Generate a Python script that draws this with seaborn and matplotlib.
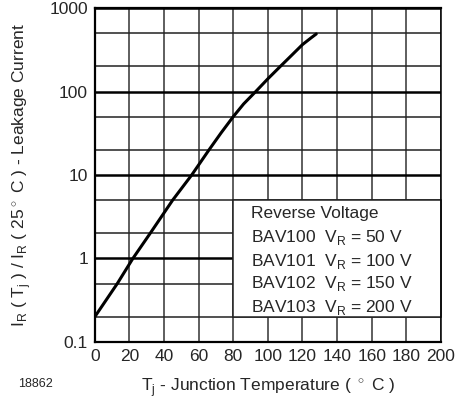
import matplotlib
matplotlib.use("Agg")
import matplotlib.pyplot as plt
import matplotlib.ticker as mticker
import pandas as pd
import seaborn as sns
from matplotlib.patches import Rectangle

# curve
temperature = [0, 13, 22, 32, 45, 56, 66, 73, 80, 86, 93, 100, 107, 114, 120, 125, 128]
leakage_ratio = [0.2, 0.5, 1, 2, 5, 10, 20, 32, 50, 71, 100, 142, 198, 275, 365, 440, 490]

x_ticks = [0, 20, 40, 60, 80, 100, 120, 140, 160, 180, 200]
y_ticks = [0.1, 1, 10, 100, 1000]
y_tick_labels = ["0.1", "1", "10", "100", "1000"]

legend_lines = [
    "Reverse Voltage",
    r"BAV100  V$_\mathregular{R}$ = 50 V",
    r"BAV101  V$_\mathregular{R}$ = 100 V",
    r"BAV102  V$_\mathregular{R}$ = 150 V",
    r"BAV103  V$_\mathregular{R}$ = 200 V",
]
legend_y = [0.386, 0.313, 0.240, 0.174, 0.104]

sns.set_style("white")
plt.rcParams["font.family"] = ["Liberation Sans", "DejaVu Sans"]
plt.rcParams["mathtext.fontset"] = "custom"
plt.rcParams["mathtext.rm"] = "Liberation Sans"

FS = 12.5

df = pd.DataFrame({"T": temperature, "ratio": leakage_ratio})

fig = plt.figure(figsize=(4.65, 4.05), dpi=100)
ax = fig.add_axes([0.204, 0.156, 0.744, 0.824])

sns.lineplot(data=df, x="T", y="ratio", ax=ax, color="black", linewidth=2.2, zorder=4)

ax.set_yscale("log")
ax.set_xlim(0, 200)
ax.set_ylim(0.1, 1000)
ax.set_xticks(x_ticks)
ax.set_xticklabels([str(t) for t in x_ticks], fontsize=FS)
ax.set_yticks(y_ticks)
ax.set_yticklabels(y_tick_labels, fontsize=FS)
ax.yaxis.set_minor_locator(mticker.LogLocator(base=10, subs=(2, 5)))
ax.yaxis.set_minor_formatter(mticker.NullFormatter())
ax.tick_params(which="both", length=0, pad=5)

ax.set_axisbelow(True)
ax.grid(axis="x", which="major", color="#333333", linewidth=1.1)
ax.grid(axis="y", which="major", color="black", linewidth=1.8)
ax.grid(axis="y", which="minor", color="#222222", linewidth=1.1)

for side in ["top", "bottom", "left", "right"]:
    ax.spines[side].set_color("black")
    ax.spines[side].set_linewidth(1.6)
ax.spines["right"].set_linewidth(1.1)

# white box holding the voltage table
box = Rectangle((80, 0.2), 120, 4.8, facecolor="white", edgecolor="#222222",
                linewidth=1.1, zorder=2, clip_on=False)
ax.add_patch(box)
for line, ypos in zip(legend_lines, legend_y):
    ax.text(0.452, ypos, line, transform=ax.transAxes,
            fontsize=FS, va="center", ha="left", zorder=5)

ax.set_xlabel(r"T$_\mathregular{j}$ - Junction Temperature ( $^\circ$ C )", fontsize=FS, labelpad=9)
ax.set_ylabel(r"I$_\mathregular{R}$ ( T$_\mathregular{j}$ ) / I$_\mathregular{R}$ ( 25$^\circ$ C ) - Leakage Current",
              fontsize=FS, labelpad=11)

fig.text(0.039, 0.052, "18862", fontsize=9, ha="left", va="center")

fig.savefig("out.png", dpi=100)
